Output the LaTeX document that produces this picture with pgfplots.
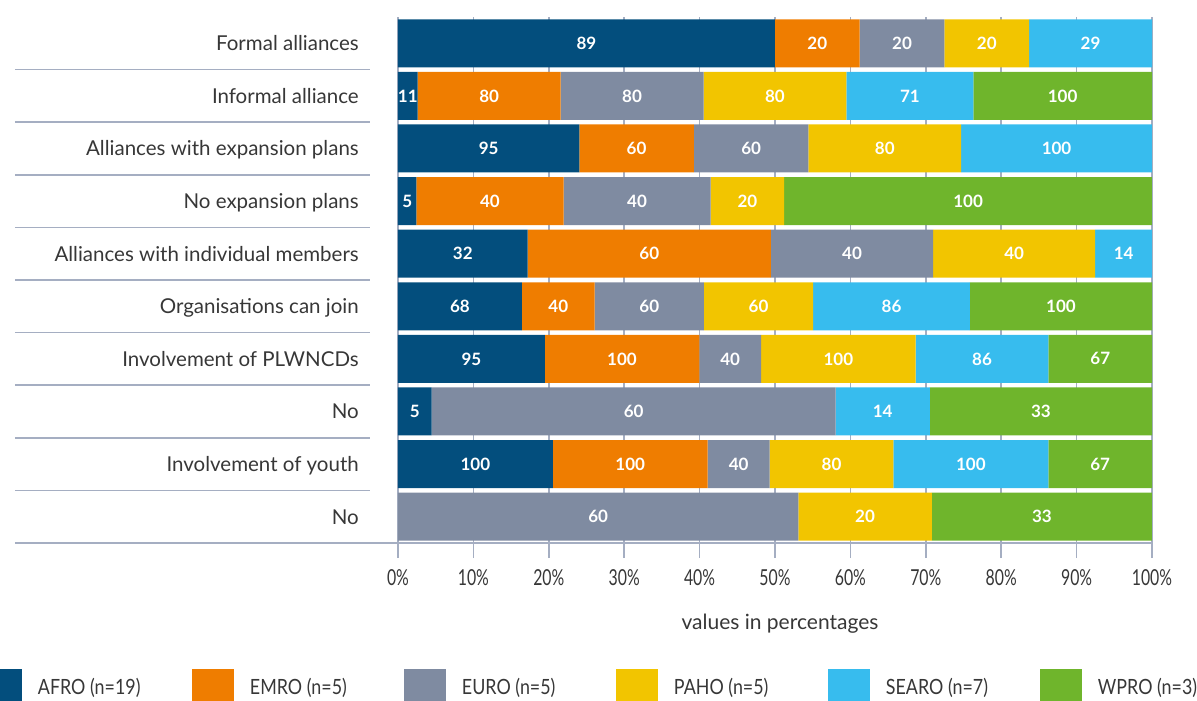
\documentclass[border=0pt]{standalone}
\usepackage{pgfplots}
\pgfplotsset{compat=1.18}
\usepackage{pgfplotstable}
\usepackage{graphicx}
\usepackage{fontspec}
\setmainfont{Lato}

\definecolor{afro}{RGB}{3,78,125}
\definecolor{emro}{RGB}{239,125,0}
\definecolor{euro}{RGB}{127,139,161}
\definecolor{paho}{RGB}{242,197,0}
\definecolor{searo}{RGB}{55,188,238}
\definecolor{wpro}{RGB}{111,181,44}
\definecolor{gridcol}{RGB}{165,174,194}
\definecolor{txt}{RGB}{55,55,55}

% raw counts per region; each bar is scaled to 100 %
\pgfplotstableread{
y AFRO EMRO EURO PAHO SEARO WPRO
9 89 20 20 20 29 0
8 11 80 80 80 71 100
7 95 60 60 80 100 0
6 5 40 40 20 0 100
5 32 60 40 40 14 0
4 68 40 60 60 86 100
3 95 100 40 100 86 67
2 5 0 60 0 14 33
1 100 100 40 80 100 67
0 0 0 60 20 0 33
}\data
\pgfplotstablecreatecol[create col/expr={\thisrow{AFRO}+\thisrow{EMRO}+\thisrow{EURO}+\thisrow{PAHO}+\thisrow{SEARO}+\thisrow{WPRO}}]{T}{\data}

\pgfplotsset{sq legend/.style={legend image code/.code={\fill[##1,draw=none] (0pt,-18pt) rectangle (42pt,18pt);}}}
\newcommand\pc[1]{\scalebox{0.72}[1]{#1\%}}
\newcommand\legtxt[1]{\makebox[154pt][l]{\scalebox{0.85}[1]{#1}}}
\newcommand\seg[2]{\addplot[sq legend, fill=#2, draw=none]
    table[x expr=\thisrow{#1}/\thisrow{T}*100, y=y, meta=#1]{\data};}

\begin{document}
\begin{tikzpicture}
\begin{axis}[
    at={(0,0)}, anchor=south west,
    scale only axis, width=754pt, height=526pt,
    xbar stacked, bar width=48pt,
    xmin=0, xmax=100, ymin=-0.5, ymax=9.5,
    xtick={0,10,...,100},
    xticklabels={\pc{0},\pc{10},\pc{20},\pc{30},\pc{40},\pc{50},\pc{60},\pc{70},\pc{80},\pc{90},\pc{100}},
    ytick={0,...,9},
    yticklabels={No, Involvement of youth, No, Involvement of PLWNCDs, Organisations can join,
        Alliances with individual members, No expansion plans, Alliances with expansion plans,
        Informal alliance, Formal alliances},
    axis line style={draw=none},
    xmajorgrids, grid style={gridcol, line width=1.5pt},
    xtick pos=left, tick align=outside, major tick length=15pt,
    x tick style={gridcol, line width=1.5pt},
    y tick style={draw=none},
    xticklabel style={anchor=base, inner sep=0pt, yshift=-27pt, font=\fontsize{22}{26}\selectfont, text=txt},
    yticklabel style={anchor=base east, inner sep=0pt, xshift=-24pt, yshift=-7.5pt, font=\fontsize{20.5}{24}\selectfont, text=txt},
    xlabel={values in percentages},
    xlabel style={at={(axis description cs:0.5,0)}, anchor=base, inner sep=0pt, yshift=-86pt, xshift=5pt, font=\fontsize{21}{25}\selectfont, text=txt},
    clip=false,
    point meta=explicit symbolic,
    nodes near coords={\ifnum\pgfplotspointmeta=0 \else\pgfplotspointmeta\fi},
    every node near coord/.append style={anchor=center, text=white, font=\fontsize{17}{20}\selectfont\bfseries},
    legend columns=6, legend cell align=left,
    legend style={at={(axis description cs:-0.5544,-0.2738)}, anchor=west, draw=none, fill=none,
        inner sep=0pt, outer sep=0pt, font=\fontsize{21}{25}\selectfont, text=txt,
        nodes={inner sep=0pt},
        /tikz/every odd column/.append style={column sep=16pt}},
]
\seg{AFRO}{afro}\addlegendentry{\legtxt{AFRO (n=19)}}
\seg{EMRO}{emro}\addlegendentry{\legtxt{EMRO (n=5)}}
\seg{EURO}{euro}\addlegendentry{\legtxt{EURO (n=5)}}
\seg{PAHO}{paho}\addlegendentry{\legtxt{PAHO (n=5)}}
\seg{SEARO}{searo}\addlegendentry{\legtxt{SEARO (n=7)}}
\seg{WPRO}{wpro}\addlegendentry{\legtxt{WPRO (n=3)}}
\draw[gridcol, line width=1.5pt] (axis cs:-50.8,-0.5) -- (axis cs:100,-0.5);
\pgfplotsinvokeforeach{0.5,1.5,...,8.5}{
  \draw[gridcol, line width=1.5pt] (axis cs:-50.8,#1) -- (axis cs:-3.7,#1);
}
\end{axis}
\pgfresetboundingbox
\path (-398pt,-158pt) rectangle (799pt,543pt);
\end{tikzpicture}
\end{document}
